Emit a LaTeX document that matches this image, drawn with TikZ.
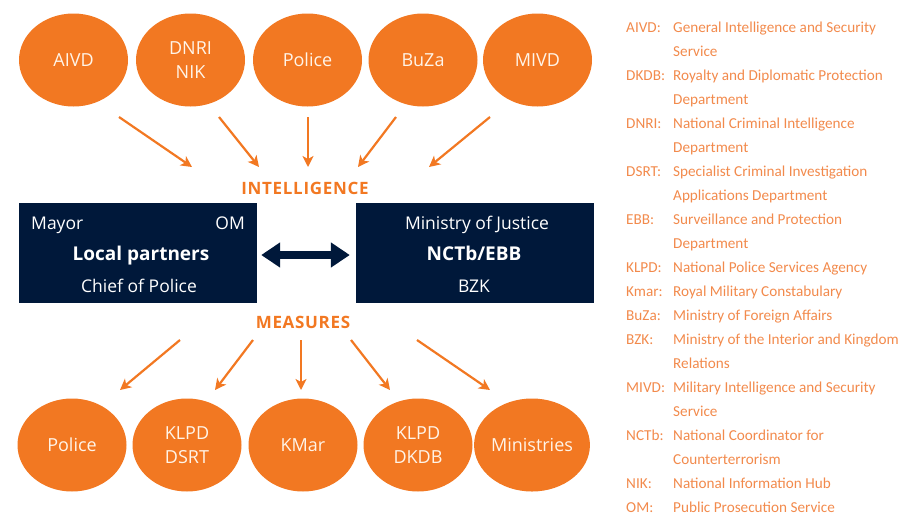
\documentclass[tikz,border=0pt]{standalone}
\usepackage{fontspec}
\setmainfont{Open Sans}
\newfontfamily\legendfont{Carlito}
\newfontfamily\capsfont[LetterSpace=4]{Open Sans}
\usetikzlibrary{arrows.meta,shapes.geometric}
\definecolor{rorange}{HTML}{F27822}
\definecolor{navy}{HTML}{00183A}
\definecolor{cream}{HTML}{FFF4E8}
\definecolor{legorange}{HTML}{F28A4C}
\tikzset{
  blob/.style={ellipse, fill=rorange, minimum width=109pt, minimum height=93pt, inner sep=0pt,
    text=cream, align=center, font=\fontsize{18}{24}\selectfont},
  panel/.style={rectangle, fill=navy, minimum width=238pt, minimum height=100pt, inner sep=0pt},
  ptext/.style={text=white, inner sep=0pt, text height=13pt, text depth=4pt, font=\fontsize{17.5}{20}\selectfont},
  pbold/.style={text=white, inner sep=0pt, text height=14pt, text depth=4pt, font=\fontsize{19}{22}\selectfont\bfseries},
  oarrow/.style={draw=rorange, line width=2.2pt, -{Stealth[length=11pt,width=11pt,inset=3pt]}},
  headlabel/.style={text=rorange, inner sep=0pt, font=\fontsize{17}{20}\selectfont\capsfont\bfseries},
  legab/.style={anchor=mid west, inner sep=0pt, text=legorange, font=\fontsize{15.2}{18}\selectfont\legendfont},
}
\begin{document}
\begin{tikzpicture}[x=1pt,y=-1pt]
\useasboundingbox (0,0) rectangle (902,515);
% top ellipses
\node[blob] (aivd) at (73.5,60) {AIVD};
\node[blob] (dnri) at (190.5,60) {DNRI\\NIK};
\node[blob] (poltop) at (307.5,60) {Police};
\node[blob] (buza) at (423,60) {BuZa};
\node[blob] (mivd) at (537.5,60) {MIVD};
% labels
\node[headlabel] (intel) at (305,188) {INTELLIGENCE};
\node[headlabel] (meas) at (303,322) {MEASURES};
% panels
\node[panel] (local) at (138,253) {};
\node[panel] (nctb) at (475,253) {};
\node[ptext, anchor=west] (mayor) at (31,225) {Mayor};
\node[ptext, anchor=east] (om) at (245,225) {OM};
\node[pbold] (lp) at (141,255) {Local partners};
\node[ptext] (cop) at (139,288) {Chief of Police};
\node[ptext] (moj) at (477,225) {Ministry of Justice};
\node[pbold] (ne) at (474,255) {NCTb/EBB};
\node[ptext] (bzk) at (474,288) {BZK};
\draw[navy, line width=8pt, {Triangle[length=19pt,width=24pt]}-{Triangle[length=19pt,width=24pt]},
  shorten <=4pt, shorten >=6pt] ([yshift=-2pt]local.east) -- ([yshift=-2pt]nctb.west);
% bottom ellipses
\node[blob] (polbot) at (72,445) {Police};
\node[blob] (klpd1) at (187,445) {KLPD\\DSRT};
\node[blob] (kmar) at (303,445) {KMar};
\node[blob] (klpd2) at (418,445) {KLPD\\DKDB};
\node[blob] (mins) at (532,445) {Ministries};
% top arrows
\coordinate (t1s) at (119,117); \coordinate (t1e) at (192,167);
\coordinate (t2s) at (219,117); \coordinate (t2e) at (259,167);
\coordinate (t3s) at (308,117); \coordinate (t3e) at (308,167);
\coordinate (t4s) at (396,117); \coordinate (t4e) at (358,167);
\coordinate (t5s) at (490,117); \coordinate (t5e) at (429,167);
\foreach \i in {1,...,5}{\draw[oarrow] (t\i s) -- (t\i e);}
% bottom arrows
\coordinate (b1s) at (180,340); \coordinate (b1e) at (120,390);
\coordinate (b2s) at (253,340); \coordinate (b2e) at (215,390);
\coordinate (b3s) at (301,340); \coordinate (b3e) at (301,390);
\coordinate (b4s) at (351,340); \coordinate (b4e) at (390,390);
\coordinate (b5s) at (417,340); \coordinate (b5e) at (490,390);
\foreach \i in {1,...,5}{\draw[oarrow] (b\i s) -- (b\i e);}
% legend
\foreach \n/\y/\ab/\df in {
  l1/27/AIVD:/General Intelligence and Security,
  l2/51//Service,
  l3/75/DKDB:/Royalty and Diplomatic Protection,
  l4/99//Department,
  l5/123/DNRI:/National Criminal Intelligence,
  l6/147//Department,
  l7/171/DSRT:/Specialist Criminal Investigation,
  l8/195//Applications Department,
  l9/219/EBB:/Surveillance and Protection,
  l10/243//Department,
  l11/267/KLPD:/National Police Services Agency,
  l12/291/Kmar:/Royal Military Constabulary,
  l13/315/BuZa:/Ministry of Foreign Affairs,
  l14/339/BZK:/Ministry of the Interior and Kingdom,
  l15/363//Relations,
  l16/387/MIVD:/Military Intelligence and Security,
  l17/411//Service,
  l18/435/NCTb:/National Coordinator for,
  l19/459//Counterterrorism,
  l20/483/NIK:/National Information Hub,
  l21/507/OM:/Public Prosecution Service}{
  \node[legab] (\n a) at (626,\y+3) {\ab};
  \node[legab] (\n d) at (673,\y+3) {\df};
}
\end{tikzpicture}
\end{document}
